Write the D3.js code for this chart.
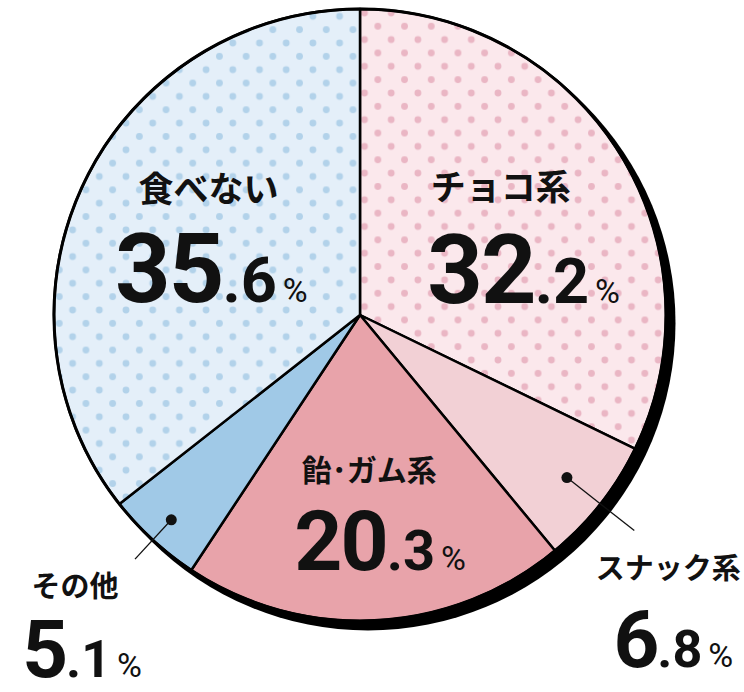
<!DOCTYPE html>
<html>
<head>
<meta charset="utf-8">
<script src="https://cdn.jsdelivr.net/npm/d3@7"></script>
<style>
  html, body { margin: 0; padding: 0; background: #fff; }
  svg { display: block; }
</style>
</head>
<body>
<div id="chart"></div>
<script>
// data
const categories = ["チョコ系", "スナック系", "飴・ガム系", "その他", "食べない"];
const values = [32.2, 6.8, 20.3, 5.1, 35.6];

// fills per slice (dotted ones use a pattern)
const fills = {
  "チョコ系": "url(#dots-pink)",
  "スナック系": "#f2d0d5",
  "飴・ガム系": "#e8a3aa",
  "その他": "#a0c9e7",
  "食べない": "url(#dots-blue)"
};
// labels inside the pie (offset from arc centroid)
const insideLabels = {
  "チョコ系": { name: [11, -34], num: [34, 69] },
  "食べない": { name: [-14, -46], num: [-11, 54] },
  "飴・ガム系": { name: [1, 13], num: [12, 102] }
};
// labels outside, with a leader line
const outsideLabels = {
  "その他": { dot: 0.91, end: 1.085, name: [-60, 38], num: [-53, 118] },
  "スナック系": { dot: 0.86, end: 1.14, name: [34, 48], num: [39, 136] }
};

const W = 744, H = 692;
const cx = 360, cy = 315, r = 306;

const svg = d3.select("#chart").append("svg")
  .attr("width", W).attr("height", H);

const defs = svg.append("defs");
function dotPattern(id, bg, dot, ox, oy) {
  const s = 26.7;
  const p = defs.append("pattern")
    .attr("id", id)
    .attr("patternUnits", "userSpaceOnUse")
    .attr("x", ox).attr("y", oy)
    .attr("width", s).attr("height", s);
  p.append("rect").attr("width", s).attr("height", s).attr("fill", bg);
  [[0, 0], [s, 0], [0, s], [s, s], [s / 2, s / 2]].forEach(([x, y]) => {
    p.append("circle").attr("cx", x).attr("cy", y).attr("r", 3.4).attr("fill", dot);
  });
}
dotPattern("dots-pink", "#fbe8ec", "#eab6c4", 378.3, 18.3);
dotPattern("dots-blue", "#e4eff9", "#b2d2ea", 326.7, 21.7);

const pie = d3.pie().sort(null).value(d => d.value);
const arcs = pie(categories.map((c, i) => ({ name: c, value: values[i] })));
const arc = d3.arc().innerRadius(0).outerRadius(r);

const g = svg.append("g").attr("transform", `translate(${cx},${cy})`);

// shadow disc
g.append("circle")
  .attr("cx", 8).attr("cy", 8).attr("r", r + 1.5)
  .attr("fill", "#000");

g.selectAll("path.slice")
  .data(arcs)
  .enter().append("path")
  .attr("class", "slice")
  .attr("d", arc)
  .attr("fill", d => fills[d.data.name])
  .attr("stroke", "#000")
  .attr("stroke-width", 2.5)
  .attr("stroke-linejoin", "round");

g.append("circle")
  .attr("r", r).attr("fill", "none")
  .attr("stroke", "#000").attr("stroke-width", 3);

// number with big integer, small decimal, thin %
function numberText(sel, value, x, y, big, small, pct) {
  const [ip, dp] = value.toFixed(1).split(".");
  const t = sel.append("text")
    .attr("x", x).attr("y", y)
    .attr("text-anchor", "middle")
    .style("font-family", "Roboto, 'DejaVu Sans', sans-serif")
    .style("fill", "#111");
  t.append("tspan").style("font-size", big + "px").style("font-weight", 700)
    .attr("letter-spacing", -2).text(ip);
  t.append("tspan").style("font-size", small + "px").style("font-weight", 700)
    .text("." + dp);
  t.append("tspan").attr("dx", 6).style("font-size", pct + "px").style("font-weight", 400)
    .text("%");
}
function nameText(sel, name, x, y, size) {
  sel.append("text")
    .attr("x", x).attr("y", y)
    .attr("text-anchor", "middle")
    .style("font-family", "'Noto Sans CJK JP', sans-serif")
    .style("font-weight", 700)
    .style("font-size", size + "px")
    .style("fill", "#111")
    .text(name.replace("・", "･"));
}

const labels = svg.append("g");
arcs.forEach(a => {
  const name = a.data.name;
  if (insideLabels[name]) {
    const L = insideLabels[name];
    const [x0, y0] = arc.centroid(a).map((v, i) => v + (i ? cy : cx));
    const big = name === "飴・ガム系" ? 84 : 97;
    const small = name === "飴・ガム系" ? 56 : 63;
    nameText(labels, name, x0 + L.name[0], y0 + L.name[1], name === "飴・ガム系" ? 30 : 35);
    numberText(labels, a.data.value, x0 + L.num[0], y0 + L.num[1], big, small, 34);
  } else {
    const L = outsideLabels[name];
    const mid = (a.startAngle + a.endAngle) / 2;
    const px = f => cx + Math.sin(mid) * r * f;
    const py = f => cy - Math.cos(mid) * r * f;
    labels.append("line")
      .attr("x1", px(L.dot)).attr("y1", py(L.dot))
      .attr("x2", px(L.end)).attr("y2", py(L.end))
      .attr("stroke", "#111").attr("stroke-width", 1.3);
    labels.append("circle")
      .attr("cx", px(L.dot)).attr("cy", py(L.dot)).attr("r", 5.5)
      .attr("fill", "#111");
    const ex = px(L.end), ey = py(L.end);
    nameText(labels, name, ex + L.name[0], ey + L.name[1], 29);
    numberText(labels, a.data.value, ex + L.num[0], ey + L.num[1], 80, 52, 34);
  }
});
</script>
</body>
</html>
